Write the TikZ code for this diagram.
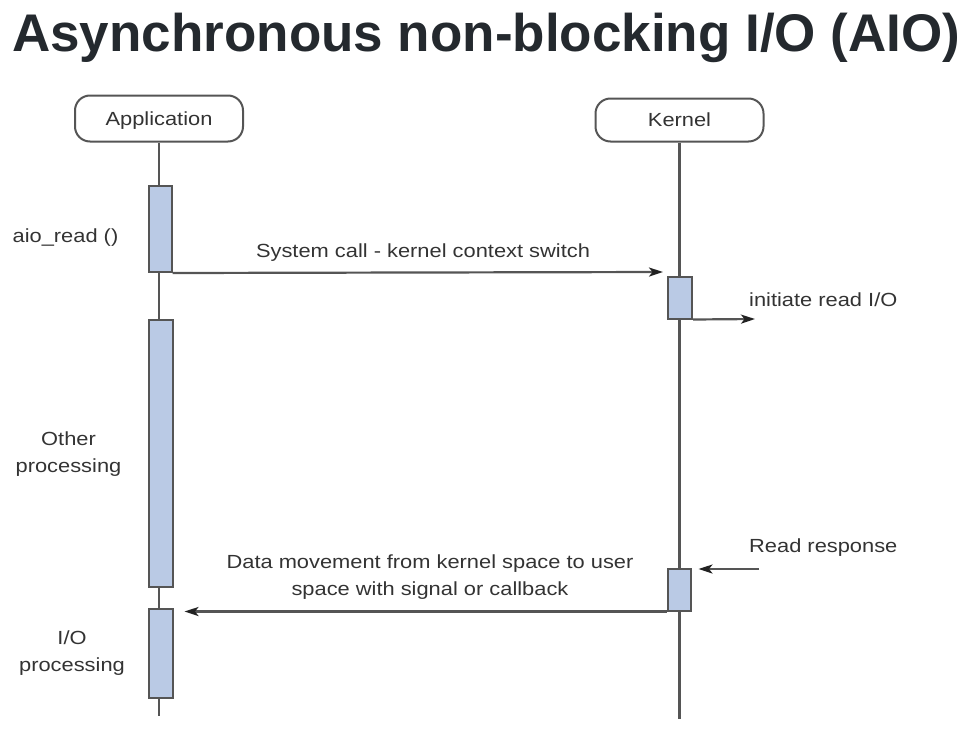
\documentclass[tikz,border=0pt]{standalone}
\usepackage{fontspec}
\setmainfont{Liberation Sans}
\newfontfamily\diagfont[FakeStretch=1.15]{Liberation Sans}
\usetikzlibrary{arrows.meta}
\definecolor{titlecol}{HTML}{24292E}
\definecolor{txtcol}{HTML}{333333}
\definecolor{linecol}{HTML}{555555}
\definecolor{tipcol}{HTML}{222222}
\definecolor{barfill}{HTML}{BACAE5}
\begin{document}
\begin{tikzpicture}[x=1pt,y=-1pt,
  actor/.style={draw=linecol, line width=2pt, rounded corners=15pt, minimum width=168pt, minimum height=46pt, inner sep=0pt, font=\diagfont\fontsize{19}{26}\selectfont, text=txtcol, fill=white, text height=13.6pt, text depth=0pt},
  bar/.style={draw=linecol, line width=2pt, fill=barfill, inner sep=0pt},
  life/.style={draw=linecol, line width=2.2pt},
  msg/.style={draw=linecol, line width=2.2pt, -{Stealth[length=14pt,width=9pt,inset=3.5pt,color=tipcol]}},
  lbl/.style={font=\diagfont\fontsize{19}{27}\selectfont, text=txtcol, inner sep=0pt, align=center},
  lblone/.style={lbl, text height=13.6pt, text depth=0pt},
]
\useasboundingbox (0,0) rectangle (968,736);
\node[font=\bfseries\fontsize{53}{60}\selectfont, text=titlecol, anchor=base west, inner sep=0pt] (title) at (12,51) {Asynchronous non-blocking I/O (AIO)};

\node[actor] (app) at (159,118.5) {Application};
\node[actor, minimum height=43pt] (kern) at (679.5,120) {Kernel};

\coordinate (append) at (159,716);
\coordinate (kernend) at (679.5,719);
\draw[life] (app.south) -- (append);
\draw[life] (kern.south) -- (kernend);

\node[bar, minimum width=23pt, minimum height=86pt] (b1) at (160,229) {};
\node[bar, minimum width=24pt, minimum height=42pt] (kb1) at (680,297.5) {};
\node[bar, minimum width=24pt, minimum height=267pt] (b2) at (160.5,453) {};
\node[bar, minimum width=23pt, minimum height=42pt] (kb2) at (679,589.5) {};
\node[bar, minimum width=24pt, minimum height=89pt] (b3) at (160.5,653) {};

\coordinate (sysend) at (663,272);
\draw[msg] (b1.south east) -- (sysend);
\node[lblone] (syslbl) at (423,251) {System call - kernel context switch};

\coordinate (initend) at (755,319);
\draw[msg] (kb1.south east) -- (initend);
\node[lblone, anchor=west] (initlbl) at (749,300) {initiate read I/O};

\coordinate (rrstart) at (759,569);
\draw[msg] (rrstart) -- ([xshift=7pt]kb2.north east |- rrstart);
\node[lblone, anchor=west] (rrlbl) at (749,546) {Read response};

\draw[msg] (kb2.south west) -- ([xshift=11pt]b3.north east |- kb2.south west);
\node[lbl] (datalbl) at (430,577.5) {Data movement from kernel space to user\\space with signal or callback};

\node[lblone] (aiolbl) at (65.5,236) {aio\_read ()};
\node[lbl] (otherlbl) at (68.5,454) {Other\\processing};
\node[lbl] (iolbl) at (72,653.5) {I/O\\processing};
\end{tikzpicture}
\end{document}
